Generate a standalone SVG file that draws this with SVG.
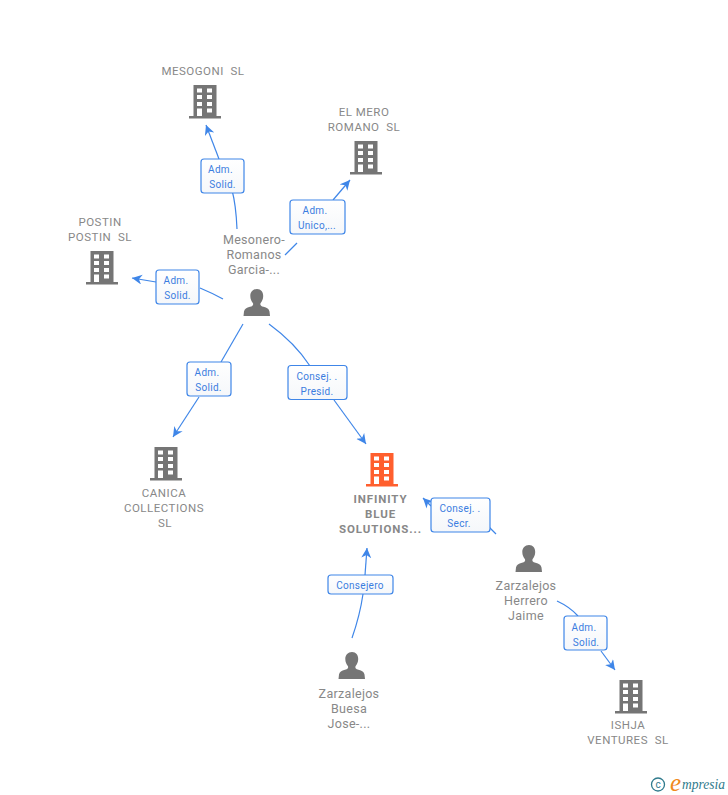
<svg xmlns="http://www.w3.org/2000/svg" width="728" height="795" viewBox="0 0 728 795">
<style>
text{font-family:Roboto,"Liberation Sans",Arial,sans-serif;white-space:pre}
.n{font-size:12.500px;fill:#888;text-anchor:middle;letter-spacing:.3px}
.c{font-size:11.500px;fill:#888;text-anchor:middle;letter-spacing:.5px}
.b{font-weight:700;letter-spacing:.9px}
.l{font-size:10px;fill:#3b7de0;text-anchor:middle;letter-spacing:.3px}
.box{fill:url(#g);stroke:#3f86e8;stroke-width:1.2}
.e{fill:none;stroke:#3f86e8;stroke-width:1.2}
.ar{fill:#3f86e8;stroke:none}
.bd{fill:#757575}.win{fill:#fff}
</style>
<defs>
<linearGradient id="g" x1="0" y1="0" x2="0" y2="1"><stop offset="0" stop-color="#fff"/><stop offset="1" stop-color="#f5f7fa"/></linearGradient>
<symbol id="bld" viewBox="0 0 32 34" width="32" height="34" overflow="visible">
<path d="M4.500 0H27.500V31H32V33.500H0V31H4.500Z"/>
<g class="win"><rect x="8" y="3.500" width="5" height="4"/><rect x="18" y="3.500" width="5" height="4"/><rect x="8" y="10" width="5" height="4"/><rect x="18" y="10" width="5" height="4"/><rect x="8" y="17" width="5" height="4"/><rect x="18" y="17" width="5" height="4"/><rect x="8" y="23.500" width="5" height="7.500"/><rect x="18" y="23.500" width="5" height="4"/></g>
</symbol>
<symbol id="per" viewBox="0 0 28 28" width="28" height="28" overflow="visible">
<path d="M14 0c4 0 6.200 3 6.200 7 0 3-1.200 5.500-2.700 7.200-.6 1.800.4 2.800 3 3.600 3.500 1.100 5.500 2.300 6 4.700l.5 4.500H.5L1 22.500c.5-2.400 2.500-3.600 6-4.700 2.600-.8 3.600-1.800 3-3.600C8.500 12.500 7.300 10 7.300 7 7.300 3 10 0 14 0Z" fill="#757575"/>
</symbol>
<marker id="a" markerUnits="userSpaceOnUse" markerWidth="12" markerHeight="12" refX="10" refY="5" orient="auto"><path class="ar" d="M0 0L10 5L0 10L3 5Z"/></marker>
</defs>
<g id="connectors">
<path class="e" d="M237 229Q236 205 232 190"/>
<path class="e" d="M219 159L206 125" marker-end="url(#a)"/>
<path class="e" d="M285 255L297 243"/>
<path class="e" d="M333 200L350 180" marker-end="url(#a)"/>
<path class="e" d="M223 299Q212 293 200 288"/>
<path class="e" d="M156 282L132 278" marker-end="url(#a)"/>
<path class="e" d="M243 324L221 362"/>
<path class="e" d="M199 397L173 437" marker-end="url(#a)"/>
<path class="e" d="M269 324Q295 343 310 366"/>
<path class="e" d="M334 400L366 444" marker-end="url(#a)"/>
<path class="e" d="M496 534L489 527"/>
<path class="e" d="M431 506L423 498" marker-end="url(#a)"/>
<path class="e" d="M352 638Q360 615 363 594"/>
<path class="e" d="M365 575L367 548" marker-end="url(#a)"/>
<path class="e" d="M557 601Q570 607 578 616"/>
<path class="e" d="M601 651L615 670" marker-end="url(#a)"/>
</g>
<g id="edge-labels">
<g><rect class="box" x="201" y="159" width="43" height="34" rx="3"/><text class="l" x="220.500" y="172.500">Adm.</text><text class="l" x="222.500" y="187.500">Solid.</text></g>
<g><rect class="box" x="290" y="200" width="55" height="34" rx="3"/><text class="l" x="315" y="213.500">Adm.</text><text class="l" x="317" y="228.500">Unico,...</text></g>
<g><rect class="box" x="156" y="270" width="43" height="34" rx="3"/><text class="l" x="176" y="283.500">Adm.</text><text class="l" x="177.500" y="298.500">Solid.</text></g>
<g><rect class="box" x="187" y="362" width="44" height="34" rx="3"/><text class="l" x="207" y="375.500">Adm.</text><text class="l" x="208.500" y="390.500">Solid.</text></g>
<g><rect class="box" x="288" y="365.500" width="59" height="34" rx="3"/><text class="l" x="317" y="379.500">Consej. .</text><text class="l" x="317" y="394.500">Presid.</text></g>
<g><rect class="box" x="431" y="498" width="59" height="34" rx="3"/><text class="l" x="460" y="511.500">Consej. .</text><text class="l" x="459" y="526.500">Secr.</text></g>
<g><rect class="box" x="328" y="575" width="65" height="19" rx="3"/><text class="l" x="360" y="588.500">Consejero</text></g>
<g><rect class="box" x="564" y="616" width="43" height="34" rx="3"/><text class="l" x="584" y="630.500">Adm.</text><text class="l" x="586" y="645.500">Solid.</text></g>
</g>
<g id="node-mesogoni"><text class="c" x="203" y="75">MESOGONI  SL</text><use href="#bld" class="bd" x="189" y="85"/></g>
<g id="node-elmero"><text class="c" x="364" y="116">EL MERO</text><text class="c" x="364" y="131">ROMANO  SL</text><use href="#bld" class="bd" x="350" y="141"/></g>
<g id="node-postin"><text class="c" x="100" y="226">POSTIN</text><text class="c" x="100" y="241">POSTIN  SL</text><use href="#bld" class="bd" x="86" y="251"/></g>
<g id="node-mesonero"><text class="n" x="254" y="244">Mesonero-</text><text class="n" x="254" y="259">Romanos</text><text class="n" x="254" y="274">Garcia-...</text><use href="#per" x="243" y="289"/></g>
<g id="node-canica"><use href="#bld" class="bd" x="150" y="447"/><text class="c" x="164" y="497">CANICA</text><text class="c" x="164" y="512">COLLECTIONS</text><text class="c" x="165" y="527">SL</text></g>
<g id="node-infinity"><use href="#bld" fill="#ff5f2e" x="366" y="453"/><text class="c b" x="380.500" y="503">INFINITY</text><text class="c b" x="380.500" y="518">BLUE</text><text class="c b" x="380.500" y="533">SOLUTIONS...</text></g>
<g id="node-herrero"><use href="#per" x="515" y="545"/><text class="n" x="526" y="590">Zarzalejos</text><text class="n" x="526" y="605">Herrero</text><text class="n" x="526" y="620">Jaime</text></g>
<g id="node-buesa"><use href="#per" x="338" y="652"/><text class="n" x="349" y="698">Zarzalejos</text><text class="n" x="349" y="713">Buesa</text><text class="n" x="349" y="728">Jose-...</text></g>
<g id="node-ishja"><use href="#bld" class="bd" x="615" y="680"/><text class="c" x="628" y="729">ISHJA</text><text class="c" x="628" y="744">VENTURES  SL</text></g>
<g id="watermark"><circle cx="658" cy="784.500" r="6.500" fill="none" stroke="#2f7a8c" stroke-width="1.300"/><text x="658" y="788" font-size="10" fill="#2f7a8c" text-anchor="middle">c</text><text x="670" y="791" font-size="25" fill="#f08a1d" style="font-family:'Liberation Serif',serif;font-style:italic">e</text><text x="682" y="789" font-size="14" fill="#2f7a8c" textLength="43" lengthAdjust="spacingAndGlyphs" style="font-family:'Liberation Serif',serif;font-style:italic">mpresia</text></g>
</svg>
